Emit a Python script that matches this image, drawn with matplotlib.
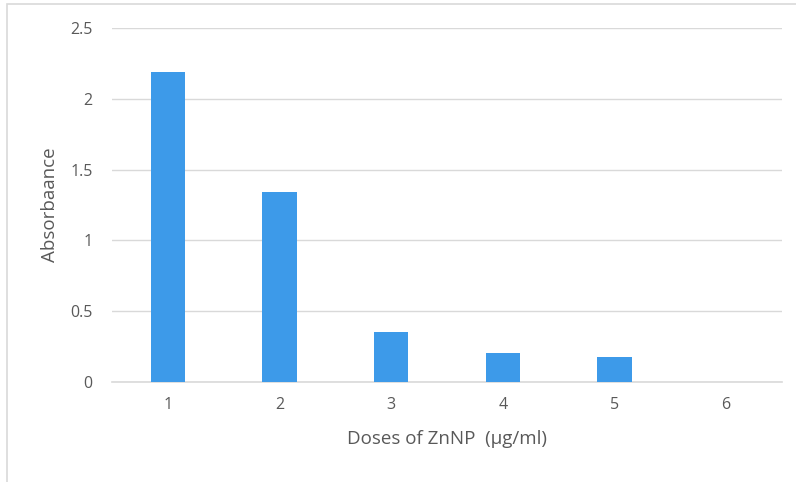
import matplotlib
matplotlib.use("Agg")
import matplotlib.pyplot as plt
from matplotlib.patches import Rectangle

categories = ["1", "2", "3", "4", "5", "6"]
absorbance = [2.19, 1.34, 0.35, 0.205, 0.18, 0.0]
y_ticks = [0, 0.5, 1, 1.5, 2, 2.5]
y_tick_labels = ["0", "0.5", "1", "1.5", "2", "2.5"]

W, H = 796, 482
fig = plt.figure(figsize=(W / 100, H / 100), dpi=100)
plt.rcParams['font.family'] = ['Open Sans', 'DejaVu Sans']

# outer chart frame
fig.patches.append(Rectangle((7 / W, -0.05), 1.2, 1 - 4 / H + 0.05, transform=fig.transFigure,
                             fill=False, edgecolor="#d9d9d9", linewidth=1.2))

ax = fig.add_axes([112 / W, 1 - 382 / H, (782 - 112) / W, (382 - 28) / H])
x = list(range(1, len(categories) + 1))
ax.bar(x, absorbance, width=0.31, color="#3d9ae9", zorder=3)
ax.set_xlim(0.5, 6.5)
ax.set_ylim(0, 2.5)
ax.set_yticks(y_ticks)
ax.set_yticklabels(y_tick_labels)
ax.set_xticks(x)
ax.set_xticklabels(categories)
ax.yaxis.grid(True, color="#d9d9d9", linewidth=1, zorder=0)
for s in ["top", "right", "left"]:
    ax.spines[s].set_visible(False)
ax.spines["bottom"].set_color("#d9d9d9")
ax.spines["bottom"].set_linewidth(1.2)
ax.tick_params(axis="both", length=0, colors="#595959", labelsize=11.5)
ax.tick_params(axis="y", pad=14)
ax.tick_params(axis="x", pad=11)
ax.set_ylabel("Absorbaance", color="#595959", fontsize=13.5, labelpad=8)
ax.set_xlabel("Doses of ZnNP  (µg/ml)", color="#595959", fontsize=13.5, labelpad=12)

fig.savefig("out.png", dpi=100)
